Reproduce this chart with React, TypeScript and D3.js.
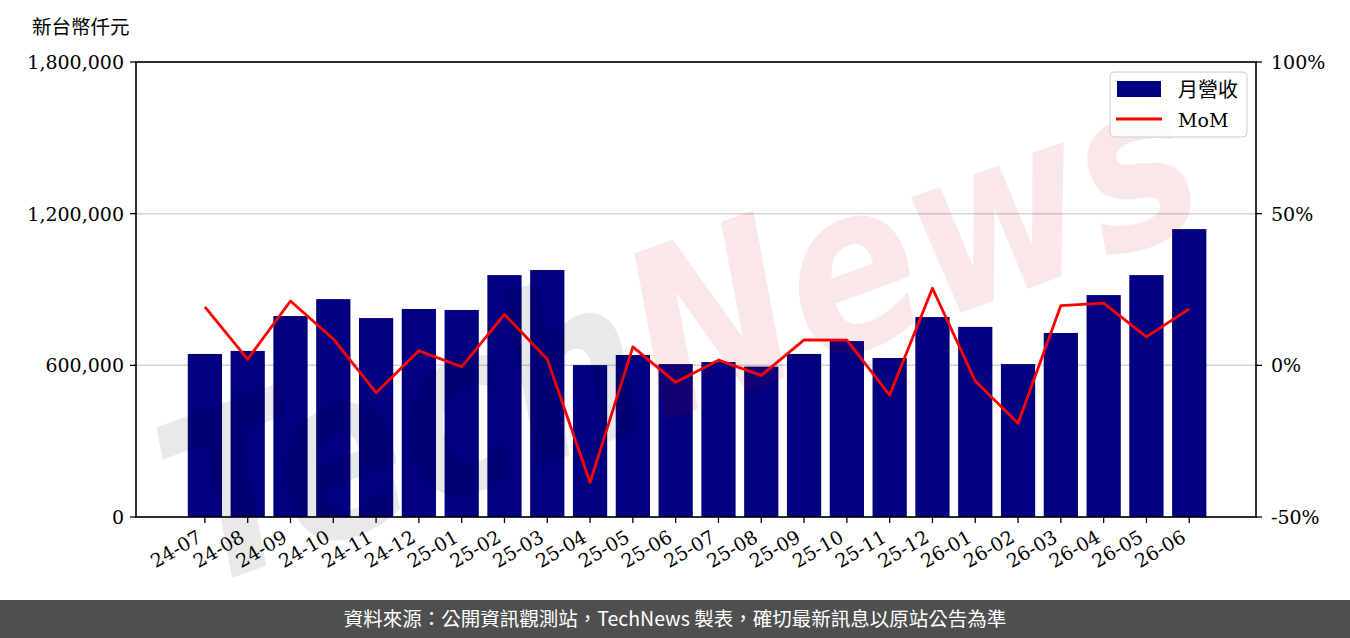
import React from "react";
import * as d3 from "d3";

const categories = ["24-07","24-08","24-09","24-10","24-11","24-12","25-01","25-02","25-03","25-04","25-05","25-06","25-07","25-08","25-09","25-10","25-11","25-12","26-01","26-02","26-03","26-04","26-05","26-06"];
const revenue = [645000,657000,795000,862000,787000,823000,819000,957000,977000,601000,641000,605000,613000,595000,645000,696000,629000,791000,752000,605000,728000,878000,957000,1139000];
const mom = [19.3,2.0,21.2,8.7,-9.0,4.8,-0.5,16.8,2.0,-38.6,6.1,-5.6,1.7,-3.3,8.4,8.3,-9.8,25.4,-5.2,-19.1,19.7,20.5,9.4,18.6];
const leftTicks = [0,600000,1200000,1800000];
const rightTicks = [-50,0,50,100];
const unitLabel = "新台幣仟元";
const legendLabels = ["月營收","MoM"];
const footerText = "資料來源：公開資訊觀測站，TechNews 製表，確切最新訊息以原站公告為準";
const watermark = ["Tech", "News"];

const W = 1350, H = 638;
const L = 136, R = 1256, T = 62, B = 517;
const serif = "'DejaVu Serif', 'Noto Sans CJK TC', serif";

export default function App() {
  const x = d3.scaleLinear().domain([-1.61, 24.56]).range([L, R]);
  const y = d3.scaleLinear().domain([0, 1800000]).range([B, T]);
  const yR = d3.scaleLinear().domain([-50, 100]).range([B, T]);
  const fmt = d3.format(",");
  const line = d3.line<number>().x((_, i) => x(i)).y((d) => yR(d));

  return (
    <svg width={W} height={H} style={{ position: "absolute", left: 0, top: 0, background: "#fff" }}>
      <rect x={0} y={0} width={W} height={H} fill="#fff" />
      {/* gridlines */}
      {leftTicks.map((t) => (
        <line key={"g" + t} x1={L} x2={R} y1={y(t)} y2={y(t)} stroke="#d3d3d3" strokeWidth={1.5} />
      ))}
      {/* bars */}
      {revenue.map((v, i) => (
        <rect key={"b" + i} x={x(i - 0.4)} width={x(i + 0.4) - x(i - 0.4)} y={y(v)} height={B - y(v)} fill="#000080" />
      ))}
      {/* MoM line */}
      <path d={line(mom) || ""} fill="none" stroke="#ff0000" strokeWidth={2.8} strokeLinejoin="round" />
      {/* watermark */}
      <g transform="translate(680,330) rotate(-20)">
        <text textAnchor="middle" fontFamily="'DejaVu Sans', sans-serif" fontStyle="italic" fontWeight="bold" fontSize={230} textLength={1080} lengthAdjust="spacingAndGlyphs" y={80}>
          <tspan fill="#000000" fillOpacity={0.085}>{watermark[0]}</tspan>
          <tspan fill="#cc0000" fillOpacity={0.09}>{watermark[1]}</tspan>
        </text>
      </g>
      {/* spines */}
      <rect x={L} y={T} width={R - L} height={B - T} fill="none" stroke="#000" strokeWidth={1.6} />
      {/* left axis */}
      {leftTicks.map((t) => (
        <g key={"l" + t}>
          <line x1={L - 6} x2={L} y1={y(t)} y2={y(t)} stroke="#000" strokeWidth={1.3} />
          <text x={L - 12} y={y(t)} dy="0.36em" textAnchor="end" fontFamily={serif} fontSize={19} fill="#000">{fmt(t)}</text>
        </g>
      ))}
      {/* right axis */}
      {rightTicks.map((t) => (
        <g key={"r" + t}>
          <line x1={R} x2={R + 6} y1={yR(t)} y2={yR(t)} stroke="#000" strokeWidth={1.3} />
          <text x={R + 15} y={yR(t)} dy="0.36em" textAnchor="start" fontFamily={serif} fontSize={19} fill="#000">{t + "%"}</text>
        </g>
      ))}
      {/* bottom axis */}
      {categories.map((c, i) => (
        <g key={"x" + c}>
          <line x1={x(i)} x2={x(i)} y1={B} y2={B + 6} stroke="#000" strokeWidth={1.3} />
          <text transform={`translate(${x(i) - 2},${B + 24}) rotate(-30)`} textAnchor="end" fontFamily={serif} fontSize={19} fill="#000">{c}</text>
        </g>
      ))}
      {/* unit label */}
      <text x={32} y={34} fontFamily={serif} fontSize={19.5} fill="#000">{unitLabel}</text>
      {/* legend */}
      <rect x={1110} y={72} width={137} height={65} rx={4} fill="#fff" fillOpacity={0.8} stroke="#cccccc" strokeWidth={1} />
      <rect x={1117} y={81} width={44} height={16} fill="#000080" />
      <text x={1178} y={97} fontFamily={serif} fontSize={20} fill="#000">{legendLabels[0]}</text>
      <line x1={1116} x2={1162} y1={119} y2={119} stroke="#ff0000" strokeWidth={3} />
      <text x={1178} y={127} fontFamily={serif} fontSize={19} fill="#000">{legendLabels[1]}</text>
      {/* footer */}
      <rect x={0} y={600} width={W} height={38} fill="#4f4f4f" />
      <text x={675} y={626} textAnchor="middle" fontFamily="'Noto Sans CJK TC', 'Noto Sans', sans-serif" fontSize={19.5} fill="#fff">{footerText}</text>
    </svg>
  );
}
